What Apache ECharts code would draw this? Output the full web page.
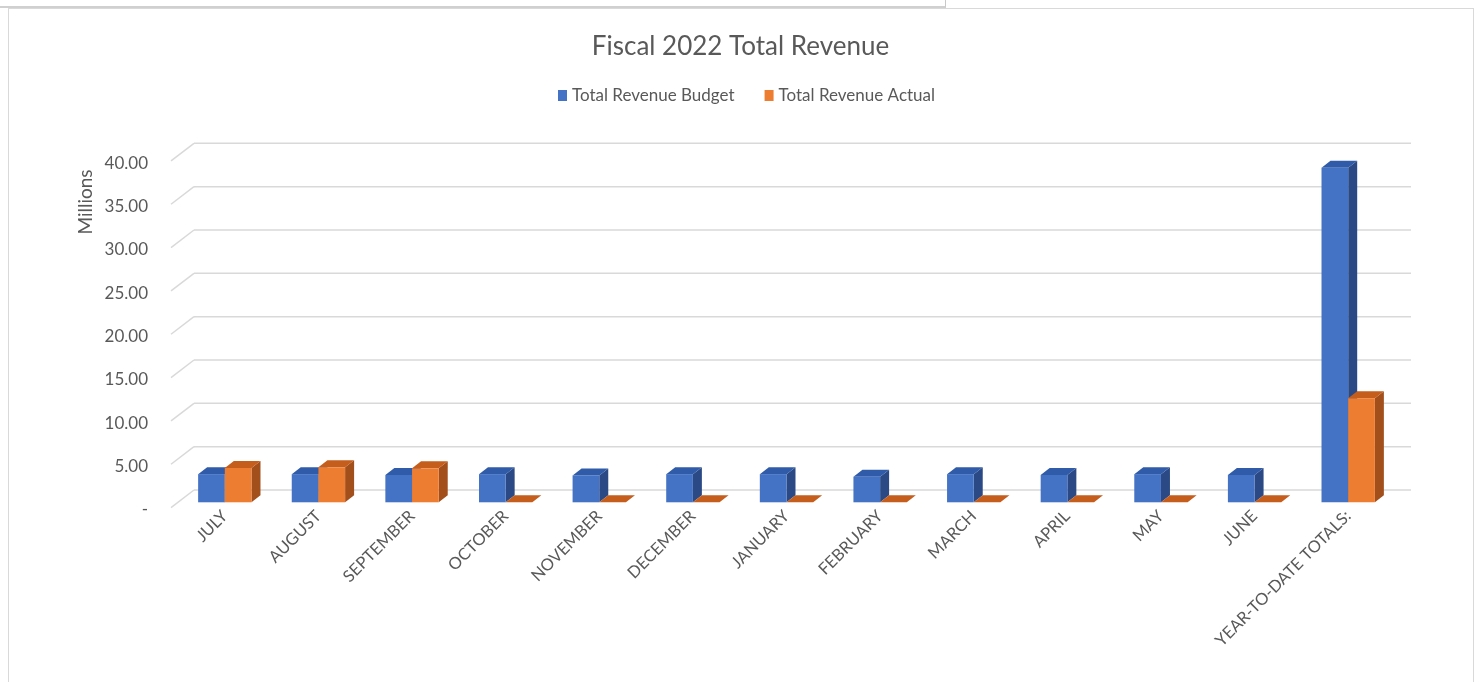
<!DOCTYPE html>
<html>
<head>
<meta charset="utf-8">
<script src="https://cdn.jsdelivr.net/npm/echarts@6/dist/echarts.min.js"></script>
<style>
  html, body { margin: 0; padding: 0; background: #ffffff; width: 1481px; height: 682px; overflow: hidden; }
  #topbox { position: absolute; left: -2px; top: -12px; width: 946px; height: 17px; border: 1px solid #c9c9c9; border-bottom: 2px solid #d0d0d0; background: #fff; }
  #frame { position: absolute; left: 8px; top: 8px; width: 1464px; height: 700px; border: 1px solid #d9d9d9; background: #fff; }
  #chart { position: absolute; left: 0; top: 0; width: 1481px; height: 682px; }
</style>
</head>
<body>
<div id="topbox"></div>
<div id="frame"></div>
<div id="chart"></div>
<script>
// ---- data ----
const categories = ['JULY', 'AUGUST', 'SEPTEMBER', 'OCTOBER', 'NOVEMBER', 'DECEMBER', 'JANUARY',
  'FEBRUARY', 'MARCH', 'APRIL', 'MAY', 'JUNE', 'YEAR-TO-DATE TOTALS:'];
const budget = [3.25, 3.25, 3.15, 3.25, 3.10, 3.25, 3.25, 2.95, 3.25, 3.15, 3.25, 3.15, 38.6];
const actual = [3.96, 4.04, 3.92, 0, 0, 0, 0, 0, 0, 0, 0, 0, 12.0];
const yTicks = [0, 5, 10, 15, 20, 25, 30, 35, 40];
const seriesNames = ['Total Revenue Budget', 'Total Revenue Actual'];

// ---- style ----
const BLUE = { front: '#4472C4', top: '#2F5BA8', side: '#2B4A85' };
const ORANGE = { front: '#ED7D31', top: '#C55E1C', side: '#A24F1C' };
const DEPTH = [9, -7];          // bar depth offset
const BACK = [16, -12.3];       // back wall offset from bar plane
const FRONT = [-7, 5.3];        // front edge offset from bar plane
const BAR_FRAC = 0.285;         // each bar width as fraction of the band

function barRenderer(col, slot) {
  return function (params, api) {
    const idx = api.value(0), val = api.value(1);
    const topPt = api.coord([idx, val]);
    const basePt = api.coord([idx, 0]);
    const band = api.size([1, 0])[0];
    const w = band * BAR_FRAC;
    const x0 = topPt[0] - w + slot * w;
    const x1 = x0 + w;
    const yt = topPt[1], yb = basePt[1];
    const dx = DEPTH[0], dy = DEPTH[1];
    return {
      type: 'group',
      children: [
        { type: 'polygon', shape: { points: [[x1, yt], [x1 + dx, yt + dy], [x1 + dx, yb + dy], [x1, yb]] },
          style: { fill: col.side } },
        { type: 'polygon', shape: { points: [[x0, yt], [x1, yt], [x1 + dx, yt + dy], [x0 + dx, yt + dy]] },
          style: { fill: col.top } },
        { type: 'rect', shape: { x: x0, y: yt, width: w, height: yb - yt },
          style: { fill: col.front } }
      ]
    };
  };
}

function gridRenderer(params, api) {
  const cs = params.coordSys;
  const y = api.coord([0, api.value(1)])[1];
  const xl = cs.x, xr = cs.x + cs.width;
  const st = { stroke: '#d9d9d9', lineWidth: 1.5 };
  return {
    type: 'group',
    children: [
      { type: 'line', shape: { x1: xl + BACK[0], y1: y + BACK[1], x2: xr + BACK[0], y2: y + BACK[1] }, style: st },
      { type: 'line', shape: { x1: xl + FRONT[0], y1: y + FRONT[1], x2: xl + BACK[0], y2: y + BACK[1] }, style: st }
    ]
  };
}

const chart = echarts.init(document.getElementById('chart'), null, { renderer: 'canvas' });
const FONT = 'Lato, "Noto Sans", sans-serif';
chart.setOption({
  backgroundColor: 'transparent',
  animation: false,
  textStyle: { fontFamily: FONT },
  title: {
    text: 'Fiscal 2022 Total Revenue',
    left: 'center', top: 29,
    textStyle: { fontFamily: FONT, fontSize: 26, fontWeight: 'normal', color: '#595959' }
  },
  legend: {
    data: seriesNames,
    top: 82, left: 553,
    icon: 'rect', itemWidth: 9, itemHeight: 11, itemGap: 30,
    textStyle: { fontFamily: FONT, fontSize: 17, color: '#595959' }
  },
  graphic: [{
    type: 'text', x: 86, y: 202, rotation: Math.PI / 2,
    style: { text: 'Millions', fontFamily: FONT, fontSize: 19, fill: '#595959', align: 'center', verticalAlign: 'middle' }
  }],
  grid: { left: 178, right: 86, top: 155.6, bottom: 179.7, containLabel: false },
  xAxis: {
    type: 'category', data: categories, boundaryGap: true,
    axisLine: { show: false }, axisTick: { show: false },
    axisLabel: { interval: 0, rotate: 45, margin: 11, fontFamily: FONT, fontSize: 16.5, color: '#595959' }
  },
  yAxis: {
    type: 'value', min: 0, max: 40, interval: 5,
    axisLine: { show: false }, axisTick: { show: false }, splitLine: { show: false },
    axisLabel: {
      margin: 30, verticalAlign: 'top', lineHeight: 15,
      fontFamily: FONT, fontSize: 17, color: '#595959',
      formatter: v => v === 0 ? '-' : v.toFixed(2)
    }
  },
  series: [
    {
      type: 'custom', name: 'grid', silent: true, z: 1,
      data: yTicks.map(v => [0, v]), encode: { x: 0, y: 1 },
      renderItem: gridRenderer
    },
    {
      type: 'custom', name: seriesNames[0], z: 2,
      itemStyle: { color: BLUE.front },
      data: budget.map((v, i) => [i, v]), encode: { x: 0, y: 1 },
      renderItem: barRenderer(BLUE, 0)
    },
    {
      type: 'custom', name: seriesNames[1], z: 3,
      itemStyle: { color: ORANGE.front },
      data: actual.map((v, i) => [i, v]), encode: { x: 0, y: 1 },
      renderItem: barRenderer(ORANGE, 1)
    }
  ]
});
</script>
</body>
</html>
